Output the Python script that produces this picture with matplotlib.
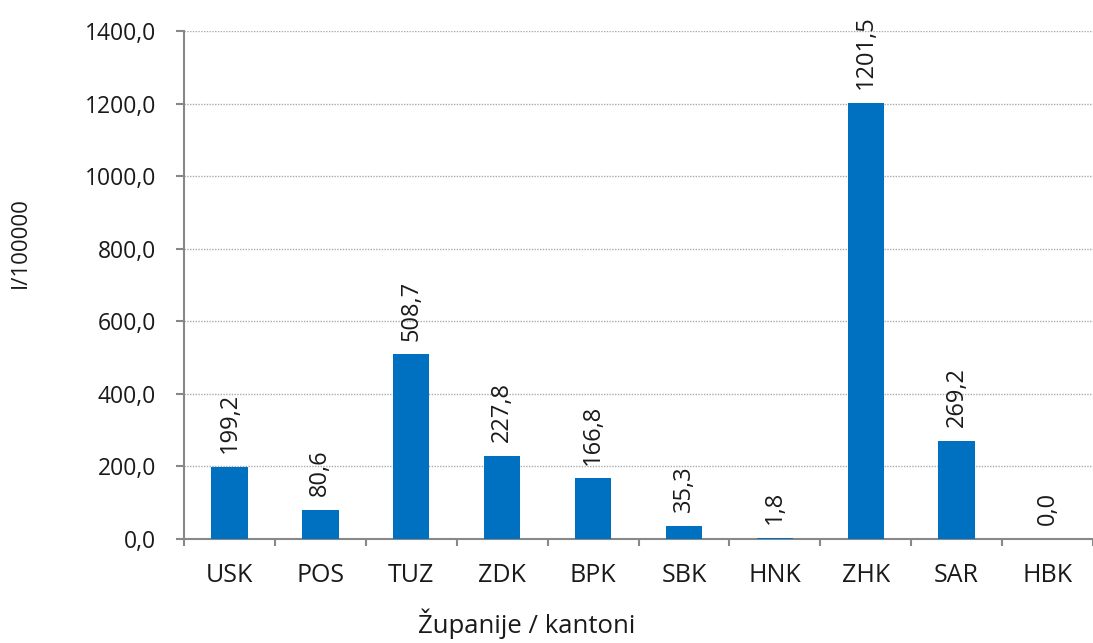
import numpy as np
import matplotlib.pyplot as plt

kantoni = ['USK', 'POS', 'TUZ', 'ZDK', 'BPK', 'SBK', 'HNK', 'ZHK', 'SAR', 'HBK']
vrijednosti = [199.2, 80.6, 508.7, 227.8, 166.8, 35.3, 1.8, 1201.5, 269.2, 0.0]

plt.rcParams['font.family'] = ['Open Sans', 'DejaVu Sans']

fig = plt.figure(figsize=(10.93, 6.43), dpi=100)
ax = fig.add_axes([184 / 1093, 1 - 539 / 643, (1093 - 184) / 1093, (539 - 31) / 643])

x = np.arange(len(kantoni))
ax.bar(x, vrijednosti, width=0.4, color='#0070c0', zorder=3)

# oznake vrijednosti iznad stupaca
for xi, v in zip(x, vrijednosti):
    ax.annotate(f'{v:.1f}'.replace('.', ','), (xi, v), xytext=(0, 10),
                textcoords='offset points', rotation=90,
                ha='center', va='bottom', fontsize=17, color='#1a1a1a')

ax.set_xlim(-0.5, len(kantoni) - 0.5)
ax.set_ylim(0, 1400)
yt = np.arange(0, 1401, 200)
ax.set_yticks(yt)
ax.set_yticklabels([f'{t:.1f}'.replace('.', ',') for t in yt], fontsize=16.5, color='#1a1a1a')
ax.set_xticks(x)
ax.set_xticklabels(kantoni, fontsize=18, color='#1a1a1a')
ax.set_xticks(np.arange(-0.5, len(kantoni)), minor=True)
ax.tick_params(axis='x', which='major', length=0, pad=17)
ax.tick_params(axis='x', which='minor', length=5, color='#888888', width=1.5)
ax.tick_params(axis='y', length=6, color='#888888', width=1.5, pad=14)

ax.yaxis.grid(True, linestyle=(0, (1, 1)), color='#aaaaaa', linewidth=1, zorder=0)
for s in ['top', 'right']:
    ax.spines[s].set_visible(False)
for s in ['left', 'bottom']:
    ax.spines[s].set_color('#888888')
    ax.spines[s].set_linewidth(1.5)

fig.text(20 / 1093, 1 - 243 / 643, 'I/100000', rotation=90, ha='center', va='center',
         fontsize=16, color='#1a1a1a')
fig.text(527 / 1093, 1 - 624 / 643, 'Županije / kantoni', ha='center', va='center',
         fontsize=18.5, color='#1a1a1a')

fig.savefig('out.png', dpi=100)
